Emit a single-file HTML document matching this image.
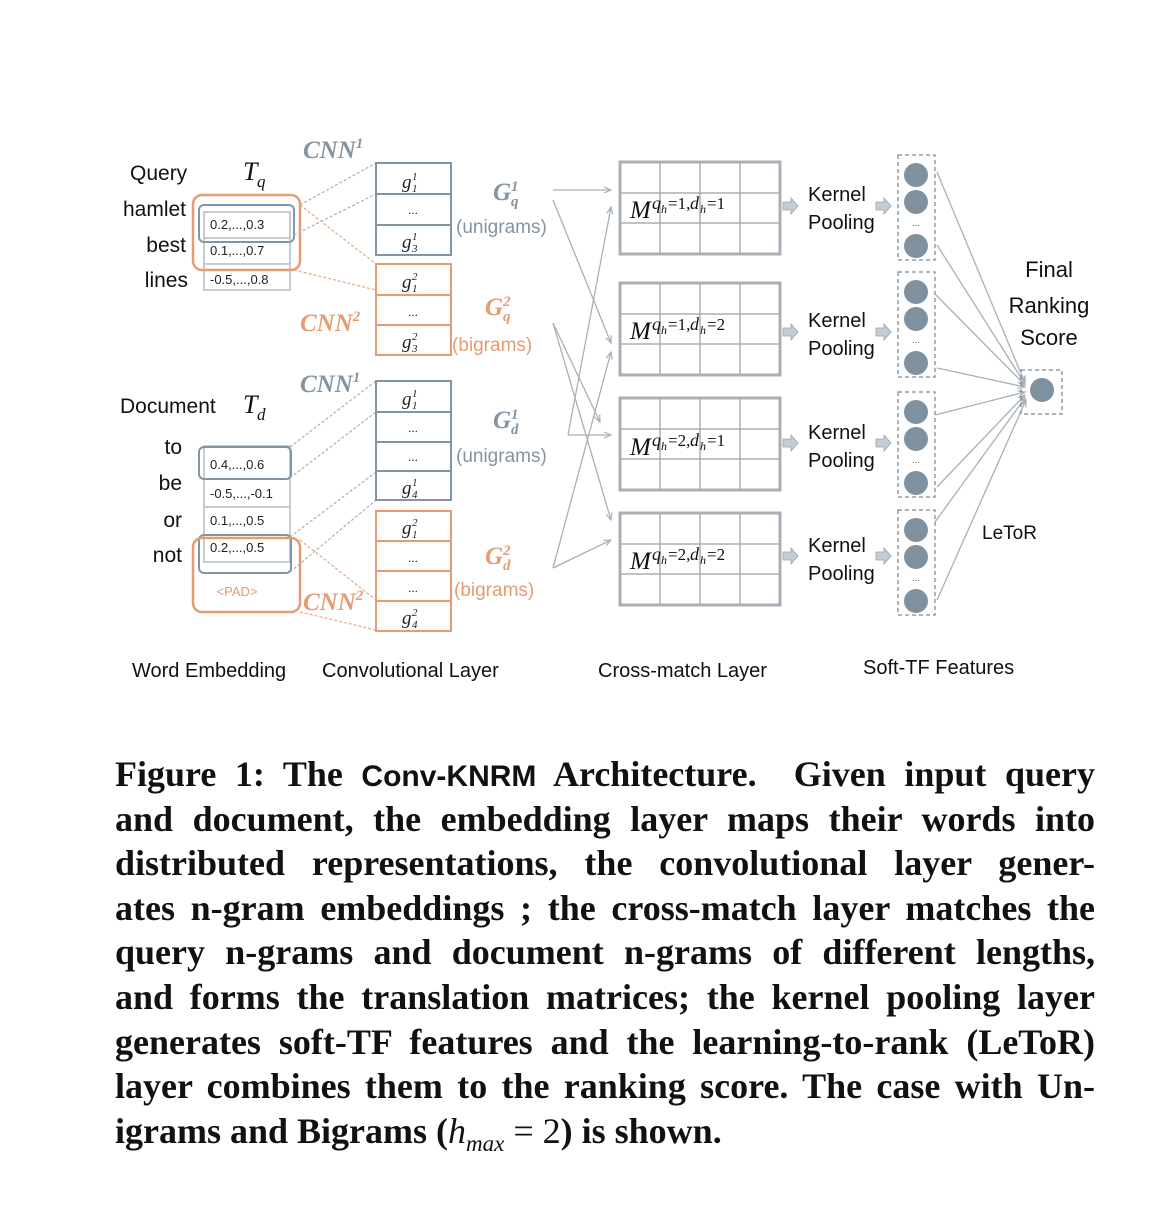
<!DOCTYPE html>
<html><head><meta charset="utf-8"><style>
html,body{margin:0;padding:0;background:#fff;width:1170px;height:1210px;overflow:hidden}
svg{position:absolute;left:0;top:0}
.cap{position:absolute;left:115px;width:980px;font-family:"Liberation Serif",serif;font-weight:bold;font-size:36px;color:#111;}
.cap div{height:44.6px;line-height:44.6px;text-align:justify;text-align-last:justify;white-space:nowrap;}
.cap div.last{text-align-last:left}
.mono{font-family:"Liberation Sans",sans-serif;font-weight:bold;font-size:30px}
</style></head><body>
<svg width="1170" height="1210" viewBox="0 0 1170 1210" font-family="Liberation Sans, sans-serif">
<defs>
<marker id="ar" markerWidth="8" markerHeight="8" refX="7" refY="4" orient="auto" markerUnits="userSpaceOnUse"><path d="M0,1 L7,4 L0,7" fill="none" stroke="#a8b0b8" stroke-width="1.2"/></marker>
<g id="col"><rect x="-18" y="-20" width="37" height="105" fill="none" stroke="#7f8c98" stroke-width="1.3" stroke-dasharray="4,3"/><circle cx="0" cy="0" r="12" fill="#7f919f"/><circle cx="0" cy="27" r="12" fill="#7f919f"/><circle cx="0" cy="71" r="12" fill="#7f919f"/><text x="0" y="51" font-size="10" text-anchor="middle" fill="#555">...</text></g>
<g id="mat" stroke="#a9afb4" fill="none"><rect x="0" y="0" width="160" height="92" stroke-width="3"/><path d="M40,0V92M80,0V92M120,0V92M0,31H160M0,61H160" stroke-width="1.5"/></g>
<g id="harr"><path d="M0,-4H8V-8L15,0L8,8V4H0Z" fill="#c5cdd4" stroke="#9aa5ae" stroke-width="0.8"/></g>
</defs>
<g font-size="21" fill="#111">
<text x="130" y="180">Query</text>
<text x="243" y="180" font-family="Liberation Serif,serif" font-style="italic" font-size="26">T</text>
<text x="257" y="187" font-family="Liberation Serif,serif" font-style="italic" font-size="17">q</text>
<text x="186" y="216" text-anchor="end">hamlet</text>
<text x="186" y="252" text-anchor="end">best</text>
<text x="188" y="287" text-anchor="end">lines</text>
<text x="120" y="413">Document</text>
<text x="243" y="413" font-family="Liberation Serif,serif" font-style="italic" font-size="26">T</text>
<text x="257" y="420" font-family="Liberation Serif,serif" font-style="italic" font-size="17">d</text>
<text x="182" y="454" text-anchor="end">to</text>
<text x="182" y="490" text-anchor="end">be</text>
<text x="182" y="527" text-anchor="end">or</text>
<text x="182" y="562" text-anchor="end">not</text>
</g>
<g stroke="#b4bbc1" fill="none" stroke-width="1.5">
<rect x="204" y="212" width="86" height="78"/><path d="M204,238H290M204,264H290"/>
<rect x="204" y="446" width="86" height="116"/><path d="M204,479H290M204,507H290M204,535H290"/>
</g>
<g font-size="13" fill="#222">
<text x="210" y="229">0.2,...,0.3</text><text x="210" y="255">0.1,...,0.7</text><text x="210" y="284">-0.5,...,0.8</text>
<text x="210" y="469">0.4,...,0.6</text><text x="210" y="498">-0.5,...,-0.1</text><text x="210" y="525">0.1,...,0.5</text><text x="210" y="552">0.2,...,0.5</text>
</g>
<rect x="199" y="205" width="95" height="37" rx="5" fill="none" stroke="#8394a3" stroke-width="2"/>
<rect x="193" y="195" width="107" height="75" rx="9" fill="none" stroke="#e59c72" stroke-width="2.5"/>
<rect x="199" y="447" width="92" height="32" rx="5" fill="none" stroke="#8394a3" stroke-width="2"/>
<rect x="199" y="535" width="92" height="38" rx="5" fill="none" stroke="#8394a3" stroke-width="2"/>
<rect x="193" y="538" width="107" height="74" rx="9" fill="none" stroke="#e59c72" stroke-width="2.5"/>
<text x="237" y="596" font-size="13" fill="#e59c72" text-anchor="middle">&lt;PAD&gt;</text>
<g fill="none" stroke-width="1.2" stroke-dasharray="3,2">
<path d="M300,205L376,163M294,235L376,194M290,447L376,381M290,478L376,412M290,537L376,472M290,572L376,500" stroke="#a7b1ba"/>
<path d="M300,205L376,264M294,270L376,290M300,540L376,600M300,612L376,630" stroke="#e8a883"/>
</g>
<g fill="none" stroke-width="2">
<g stroke="#8394a3"><rect x="376" y="163" width="75" height="92"/><path d="M376,194H451M376,225H451"/>
<rect x="376" y="381" width="75" height="119"/><path d="M376,412H451M376,442H451M376,471H451"/></g>
<g stroke="#e59c72"><rect x="376" y="264" width="75" height="91"/><path d="M376,295H451M376,325H451"/>
<rect x="376" y="511" width="75" height="120"/><path d="M376,541H451M376,571H451M376,601H451"/></g>
</g>
<g font-family="Liberation Serif,serif" font-style="italic" font-size="19" fill="#222">
<text x="402" y="188">g</text><text x="412" y="180" font-size="11">1</text><text x="412" y="192" font-size="11">1</text>
<text x="402" y="248">g</text><text x="412" y="240" font-size="11">1</text><text x="412" y="252" font-size="11">3</text>
<text x="402" y="288">g</text><text x="412" y="280" font-size="11">2</text><text x="412" y="292" font-size="11">1</text>
<text x="402" y="348">g</text><text x="412" y="340" font-size="11">2</text><text x="412" y="352" font-size="11">3</text>
<text x="402" y="405">g</text><text x="412" y="397" font-size="11">1</text><text x="412" y="409" font-size="11">1</text>
<text x="402" y="494">g</text><text x="412" y="486" font-size="11">1</text><text x="412" y="498" font-size="11">4</text>
<text x="402" y="534">g</text><text x="412" y="526" font-size="11">2</text><text x="412" y="538" font-size="11">1</text>
<text x="402" y="624">g</text><text x="412" y="616" font-size="11">2</text><text x="412" y="628" font-size="11">4</text>
</g>
<g font-size="12" fill="#222" text-anchor="middle">
<text x="413" y="214">...</text><text x="413" y="316">...</text><text x="413" y="432">...</text><text x="413" y="461">...</text><text x="413" y="562">...</text><text x="413" y="592">...</text>
</g>
<g font-family="Liberation Serif,serif" font-style="italic" font-weight="bold" font-size="25">
<text x="303" y="158" fill="#8394a3">CNN<tspan font-size="15" dy="-10">1</tspan></text>
<text x="300" y="331" fill="#e59c72">CNN<tspan font-size="15" dy="-10">2</tspan></text>
<text x="300" y="392" fill="#8394a3">CNN<tspan font-size="15" dy="-10">1</tspan></text>
<text x="303" y="610" fill="#e59c72">CNN<tspan font-size="15" dy="-10">2</tspan></text>
<g fill="#8394a3"><text x="493" y="200">G</text><text x="511" y="191" font-size="15">1</text><text x="511" y="206" font-size="15">q</text>
<text x="493" y="428">G</text><text x="511" y="419" font-size="15">1</text><text x="511" y="434" font-size="15">d</text></g>
<g fill="#e59c72"><text x="485" y="315">G</text><text x="503" y="306" font-size="15">2</text><text x="503" y="321" font-size="15">q</text>
<text x="485" y="564">G</text><text x="503" y="555" font-size="15">2</text><text x="503" y="570" font-size="15">d</text></g>
</g>
<g font-size="19">
<text x="456" y="233" fill="#8394a3">(unigrams)</text>
<text x="452" y="351" fill="#e59c72">(bigrams)</text>
<text x="456" y="462" fill="#8394a3">(unigrams)</text>
<text x="454" y="596" fill="#e59c72">(bigrams)</text>
</g>
<g stroke="#a8b0b8" stroke-width="1.3" fill="none" marker-end="url(#ar)">
<path d="M553,190H611"/>
<path d="M553,200L611,343"/>
<path d="M553,323L600,422"/>
<path d="M553,323L611,520"/>
<path d="M568,435L611,207"/>
<path d="M568,435H611"/>
<path d="M553,568L611,352"/>
<path d="M553,568L611,540"/>
</g>
<use href="#mat" x="620" y="162"/><use href="#mat" x="620" y="283"/><use href="#mat" x="620" y="398"/><use href="#mat" x="620" y="513"/>
<g font-family="Liberation Serif,serif" fill="#111">
<g transform="translate(630,218)"><text font-size="25" font-style="italic">M</text><text x="22" y="-9" font-size="18" font-style="italic">q</text><text x="31" y="-5" font-size="12" font-style="italic">h</text><text x="38" y="-9" font-size="17">=1,</text><text x="60" y="-9" font-size="18" font-style="italic">d</text><text x="70" y="-5" font-size="12" font-style="italic">h</text><text x="77" y="-9" font-size="17">=1</text></g>
<g transform="translate(630,339)"><text font-size="25" font-style="italic">M</text><text x="22" y="-9" font-size="18" font-style="italic">q</text><text x="31" y="-5" font-size="12" font-style="italic">h</text><text x="38" y="-9" font-size="17">=1,</text><text x="60" y="-9" font-size="18" font-style="italic">d</text><text x="70" y="-5" font-size="12" font-style="italic">h</text><text x="77" y="-9" font-size="17">=2</text></g>
<g transform="translate(630,455)"><text font-size="25" font-style="italic">M</text><text x="22" y="-9" font-size="18" font-style="italic">q</text><text x="31" y="-5" font-size="12" font-style="italic">h</text><text x="38" y="-9" font-size="17">=2,</text><text x="60" y="-9" font-size="18" font-style="italic">d</text><text x="70" y="-5" font-size="12" font-style="italic">h</text><text x="77" y="-9" font-size="17">=1</text></g>
<g transform="translate(630,569)"><text font-size="25" font-style="italic">M</text><text x="22" y="-9" font-size="18" font-style="italic">q</text><text x="31" y="-5" font-size="12" font-style="italic">h</text><text x="38" y="-9" font-size="17">=2,</text><text x="60" y="-9" font-size="18" font-style="italic">d</text><text x="70" y="-5" font-size="12" font-style="italic">h</text><text x="77" y="-9" font-size="17">=2</text></g>
</g>
<g font-size="20" fill="#111">
<text x="808" y="201">Kernel</text><text x="808" y="229">Pooling</text>
<text x="808" y="327">Kernel</text><text x="808" y="355">Pooling</text>
<text x="808" y="439">Kernel</text><text x="808" y="467">Pooling</text>
<text x="808" y="552">Kernel</text><text x="808" y="580">Pooling</text>
</g>
<use href="#harr" x="783" y="206"/><use href="#harr" x="876" y="206"/>
<use href="#harr" x="783" y="332"/><use href="#harr" x="876" y="332"/>
<use href="#harr" x="783" y="443"/><use href="#harr" x="876" y="443"/>
<use href="#harr" x="783" y="556"/><use href="#harr" x="876" y="556"/>
<use href="#col" x="916" y="175"/><use href="#col" x="916" y="292"/><use href="#col" x="916" y="412"/><use href="#col" x="916" y="530"/>
<g stroke="#a8b0b8" stroke-width="1.3" fill="none" marker-end="url(#ar)">
<path d="M937,172L1025,383"/><path d="M937,245L1025,384"/><path d="M934,293L1025,385"/><path d="M937,368L1025,387"/>
<path d="M935,415L1025,392"/><path d="M937,487L1025,395"/><path d="M935,522L1025,398"/><path d="M937,600L1026,400"/>
</g>
<rect x="1021" y="370" width="41" height="44" fill="none" stroke="#7f8c98" stroke-width="1.3" stroke-dasharray="4,3"/>
<circle cx="1042" cy="390" r="12" fill="#7f919f"/>
<g font-size="22" fill="#111" text-anchor="middle">
<text x="1049" y="277">Final</text><text x="1049" y="313">Ranking</text><text x="1049" y="345">Score</text>
</g>
<text x="982" y="539" font-size="19" fill="#111">LeToR</text>
<g font-size="20" fill="#111">
<text x="132" y="677">Word Embedding</text>
<text x="322" y="677">Convolutional Layer</text>
<text x="598" y="677">Cross-match Layer</text>
<text x="863" y="674">Soft-TF Features</text>
</g>
</svg>
<div class="cap" style="top:752px">
<div>Figure 1: The <span class="mono">Conv-KNRM</span> Architecture.&nbsp; Given input query</div>
<div>and document, the embedding layer maps their words into</div>
<div>distributed representations, the convolutional layer gener-</div>
<div>ates n-gram embeddings ; the cross-match layer matches the</div>
<div>query n-grams and document n-grams of different lengths,</div>
<div>and forms the translation matrices; the kernel pooling layer</div>
<div>generates soft-TF features and the learning-to-rank (LeToR)</div>
<div>layer combines them to the ranking score. The case with Un-</div>
<div class="last">igrams and Bigrams (<i style="font-weight:normal">h<sub style="font-size:23px">max</sub></i> <span style="font-weight:normal">= 2</span>) is shown.</div>
</div>
</body></html>
